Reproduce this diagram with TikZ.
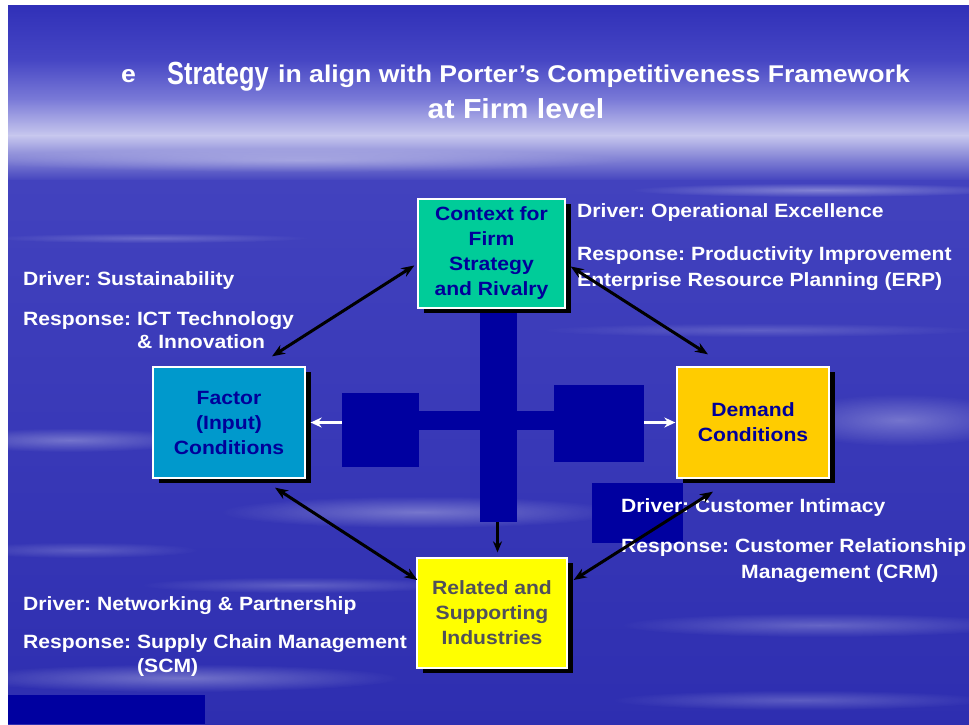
\documentclass[tikz,border=0pt]{standalone}
\usepackage{fontspec}
\setmainfont{Liberation Sans}[FakeStretch=1.1]
\usetikzlibrary{arrows.meta,shadows,fadings}

\definecolor{skyA}{RGB}{48,48,184}
\definecolor{skyB}{RGB}{70,70,196}
\definecolor{skyC}{RGB}{124,124,216}
\definecolor{skyD}{RGB}{200,200,238}
\definecolor{skyE}{RGB}{66,66,190}
\definecolor{skyF}{RGB}{46,46,176}
\definecolor{crossblue}{RGB}{0,0,160}
\definecolor{navytext}{RGB}{0,0,153}
\definecolor{contextgreen}{RGB}{0,204,153}
\definecolor{factorcyan}{RGB}{0,153,204}
\definecolor{demandgold}{RGB}{255,204,0}
\definecolor{relatedyellow}{RGB}{255,255,0}
\definecolor{relatedtext}{RGB}{80,80,90}

\tikzfading[name=softedge, inner color=transparent!0, outer color=transparent!100]

\tikzset{
  haze/.style={fill=white, path fading=softedge, opacity=#1},
  slab/.style={fill=crossblue, inner sep=0pt, outer sep=0pt},
  force/.style={draw=white, line width=1.3pt, inner sep=0pt, align=center,
    font=\fontsize{19.2}{25}\selectfont\bfseries, text=navytext,
    drop shadow={shadow xshift=6pt, shadow yshift=-5pt, fill=black, opacity=1}},
  caption/.style={anchor=base west, inner sep=0pt, text=white,
    font=\fontsize{19.2}{24}\selectfont\bfseries},
  titletext/.style={anchor=base west, inner sep=0pt, text=white,
    font=\fontsize{24.2}{28}\selectfont\bfseries},
  link/.style={{Stealth[length=13pt,width=10pt]}-{Stealth[length=13pt,width=10pt]},
    line width=3pt, black},
  feed/.style={-{Stealth[length=11pt,width=9pt]}, line width=3pt, black},
  push/.style={-{Stealth[length=11pt,width=10pt]}, line width=3pt, white}
}

\begin{document}
\frenchspacing
\begin{tikzpicture}[x=1pt, y=-1pt]
\useasboundingbox (0,0) rectangle (969,724);
\fill[white] (0,0) rectangle (969,724);

% sky background
\shade[top color=skyA, bottom color=skyB] (8,5) rectangle (969,61);
\shade[top color=skyB, bottom color=skyC] (8,60) rectangle (969,101);
\shade[top color=skyC, bottom color=skyD] (8,100) rectangle (969,136);
\shade[top color=skyD, bottom color=skyE] (8,135) rectangle (969,181);
\shade[top color=skyE, bottom color=skyF] (8,180) rectangle (969,724);

% cloud streaks
\begin{scope}
\clip (8,5) rectangle (969,724);
\fill[haze=0.35] (820,190) ellipse [x radius=190, y radius=7];
\fill[haze=0.30] (300,160) ellipse [x radius=330, y radius=12];
\fill[haze=0.22] (150,238) ellipse [x radius=160, y radius=5];
\fill[haze=0.18] (760,330) ellipse [x radius=220, y radius=7];
\fill[haze=0.30] (70,440) ellipse [x radius=130, y radius=12];
\fill[haze=0.30] (900,420) ellipse [x radius=120, y radius=26];
\fill[haze=0.32] (420,512) ellipse [x radius=200, y radius=16];
\fill[haze=0.20] (80,550) ellipse [x radius=120, y radius=8];
\fill[haze=0.22] (300,585) ellipse [x radius=160, y radius=8];
\fill[haze=0.25] (820,625) ellipse [x radius=200, y radius=12];
\fill[haze=0.32] (180,678) ellipse [x radius=220, y radius=14];
\fill[haze=0.22] (800,700) ellipse [x radius=190, y radius=10];
\end{scope}

% title
\node[titletext] (te) at (121,82) {e};
\node[anchor=base west, inner sep=0pt, text=white] (tstrat) at (167,84)
  {\scalebox{0.72}[1]{\fontsize{32}{34}\selectfont\bfseries Strategy}};
\node[titletext] (tline) at (278,82) {in align with Porter’s Competitiveness Framework};
\node[titletext, anchor=base, font=\fontsize{27.5}{30}\selectfont\bfseries] (tlevel) at (516,118) {at Firm level};

% dark blue slabs
\node[slab, minimum width=37pt, minimum height=209pt] (vbar) at (498.5,417.5) {};
\node[slab, minimum width=135pt, minimum height=19pt] (hbar) at (486.5,420.5) {};
\node[slab, minimum width=77pt, minimum height=74pt] (leftsq) at (380.5,430) {};
\node[slab, minimum width=90pt, minimum height=77pt] (rightsq) at (599,423.5) {};
\node[slab, minimum width=91pt, minimum height=60pt] (crmsq) at (637.5,513) {};
\node[slab, minimum width=197pt, minimum height=29pt] (cornersq) at (106.5,709.5) {};

% the four determinants
\node[force, fill=contextgreen, minimum width=147pt, minimum height=109pt] (context) at (491.5,253.5)
  {Context for\\Firm\\Strategy\\and Rivalry};
\node[force, fill=factorcyan, minimum width=152pt, minimum height=111pt] (factor) at (229,422.5)
  {Factor\\(Input)\\Conditions};
\node[force, fill=demandgold, minimum width=152pt, minimum height=111pt] (demand) at (753,422.5)
  {Demand\\Conditions};
\node[force, fill=relatedyellow, text=relatedtext, minimum width=150pt, minimum height=110pt] (related) at (492,613)
  {Related and\\Supporting\\Industries};

% drivers and responses
\node[caption] (drvop) at (577,217) {Driver: Operational Excellence};
\node[caption] (rspopa) at (577,260) {Response: Productivity Improvement};
\node[caption] (rspopb) at (577,286) {Enterprise Resource Planning (ERP)};
\node[caption] (drvsus) at (23,285) {Driver: Sustainability};
\node[caption] (rspsusa) at (23,325) {Response: ICT Technology};
\node[caption] (rspsusb) at (137,348) {\& Innovation};
\node[caption] (drvcus) at (621,512) {Driver: Customer Intimacy};
\node[caption] (rspcusa) at (621,552) {Response: Customer Relationship};
\node[caption] (rspcusb) at (741,578) {Management (CRM)};
\node[caption] (drvnet) at (23,610) {Driver: Networking \& Partnership};
\node[caption] (rspneta) at (23,648) {Response: Supply Chain Management};
\node[caption] (rspnetb) at (137,672) {(SCM)};

% connectors
\draw[push] (leftsq.west |- factor.east) -- ([shift={(5,0)}]factor.east);
\draw[push] (rightsq.east |- demand.west) -- ([shift={(-1,0)}]demand.west);
\draw[feed, shorten >=5pt] ([shift={(-1,0)}]vbar.south) -- ([shift={(-1,0)}]vbar.south |- related.north);
\draw[link] ([shift={(43,-10)}]factor.north) -- ([shift={(-3,12)}]context.west);
\draw[link] ([shift={(5,13)}]context.east) -- ([shift={(-45,-12)}]demand.north);
\draw[link] ([shift={(46,9)}]factor.south) -- ([shift={(1,-33)}]related.west);
\draw[link] ([shift={(6,-33)}]related.east) -- ([shift={(-40,13)}]demand.south);
\end{tikzpicture}
\end{document}
